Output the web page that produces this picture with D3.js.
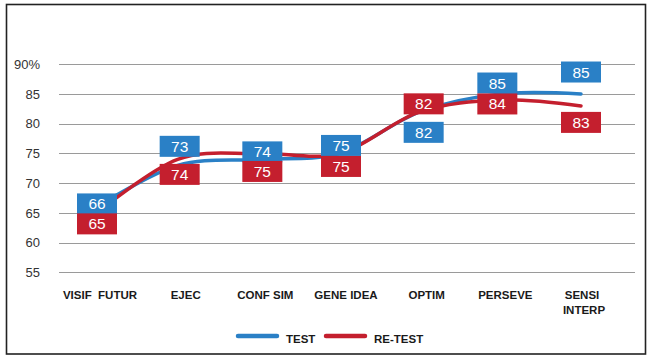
<!DOCTYPE html>
<html>
<head>
<meta charset="utf-8">
<script src="https://cdn.jsdelivr.net/npm/d3@7"></script>
<style>
  html, body { margin: 0; padding: 0; background: #fff; }
  svg { display: block; }
  text { font-family: "Liberation Sans", Arial, sans-serif; }
</style>
</head>
<body>
<svg id="chart" width="653" height="360"></svg>
<script>
// ---- data ----
const categories = ["VISIF  FUTUR", "EJEC", "CONF SIM", "GENE IDEA", "OPTIM", "PERSEVE", "SENSI\nINTERP"];
const testValues   = [66, 73, 74, 75, 82, 85, 85];
const retestValues = [65, 74, 75, 75, 82, 84, 83];
const yTicks = [55, 60, 65, 70, 75, 80, 85, 90];
const seriesNames = ["TEST", "RE-TEST"];

// ---- layout (label placement, px) ----
const testLabelDy   = [-3, -19, -7.5, -8, 20.5, -11, -22];
const retestLabelDy = [11, 15, 18, 13, -8, 4, 16.5];
const boxDx = [0, 2, 4, 2, 4, -3, 0];
const catLabelDx = [3, 8, 7, 7, 7, 5, 1];

const colors = { test: "#2a80c6", retest: "#c41f2e" };

const svg = d3.select("#chart");

// frame
svg.append("rect")
  .attr("x", 6.5).attr("y", 4.5)
  .attr("width", 639).attr("height", 349.5)
  .attr("fill", "none").attr("stroke", "#222").attr("stroke-width", 1.6);

const x = d3.scalePoint().domain(categories).range([97, 581]);
const y = d3.scaleLinear().domain([55, 90]).range([272.3, 64.3]);

// gridlines
svg.append("g").selectAll("line").data(yTicks).join("line")
  .attr("x1", 59).attr("x2", 635)
  .attr("y1", d => Math.round(y(d)) + 0.5).attr("y2", d => Math.round(y(d)) + 0.5)
  .attr("stroke", "#9a9a9a").attr("stroke-width", 1);

// y axis labels
const yAxis = d3.axisLeft(y).tickValues(yTicks).tickSize(0).tickPadding(0)
  .tickFormat(d => d === 90 ? "90%" : d);
const gy = svg.append("g").attr("transform", "translate(40,0)").call(yAxis);
gy.select(".domain").remove();
gy.selectAll("text")
  .attr("font-family", "'Liberation Sans', Arial, sans-serif")
  .attr("font-size", 13).attr("fill", "#333");

// category labels
const gx = svg.append("g");
categories.forEach((c, i) => {
  const lines = c.split("\n");
  const t = gx.append("text")
    .attr("x", x(c) + catLabelDx[i]).attr("y", 299)
    .attr("text-anchor", "middle")
    .attr("font-size", 11.5).attr("font-weight", "bold").attr("fill", "#1a1a1a")
    .style("white-space", "pre");
  lines.forEach((ln, j) => {
    t.append("tspan").attr("x", x(c) + catLabelDx[i] + (j === 1 ? 2 : 0))
      .attr("dy", j === 0 ? 0 : 15).text(ln);
  });
});

// lines
const line = d3.line().curve(d3.curveCardinal.tension(0))
  .x((d, i) => x(categories[i])).y(d => y(d));

svg.append("path").datum(testValues).attr("d", line)
  .attr("fill", "none").attr("stroke", colors.test).attr("stroke-width", 3.5)
  .attr("stroke-linecap", "round");
svg.append("path").datum(retestValues).attr("d", line)
  .attr("fill", "none").attr("stroke", colors.retest).attr("stroke-width", 3.5)
  .attr("stroke-linecap", "round");

// value boxes
function drawBoxes(values, dys, color) {
  const g = svg.append("g");
  values.forEach((v, i) => {
    const cx = x(categories[i]) + boxDx[i];
    const cy = y(v) + dys[i];
    g.append("rect")
      .attr("x", cx - 20).attr("y", cy - 10.5)
      .attr("width", 40).attr("height", 21)
      .attr("fill", color);
    g.append("text")
      .attr("x", cx).attr("y", cy + 5.5)
      .attr("text-anchor", "middle")
      .attr("font-size", 15.5).attr("fill", "#fff")
      .text(v);
  });
}
drawBoxes(testValues, testLabelDy, colors.test);
drawBoxes(retestValues, retestLabelDy, colors.retest);

// legend
const legend = svg.append("g");
const legendItems = [
  { name: seriesNames[0], color: colors.test, x: 236 },
  { name: seriesNames[1], color: colors.retest, x: 324 }
];
legendItems.forEach(it => {
  legend.append("line")
    .attr("x1", it.x + 2).attr("x2", it.x + 41)
    .attr("y1", 336).attr("y2", 336)
    .attr("stroke", it.color).attr("stroke-width", 4.5).attr("stroke-linecap", "round");
  legend.append("text")
    .attr("x", it.x + 50).attr("y", 342.5)
    .attr("font-size", 11.5).attr("font-weight", "bold").attr("fill", "#1a1a1a")
    .text(it.name);
});
</script>
</body>
</html>
